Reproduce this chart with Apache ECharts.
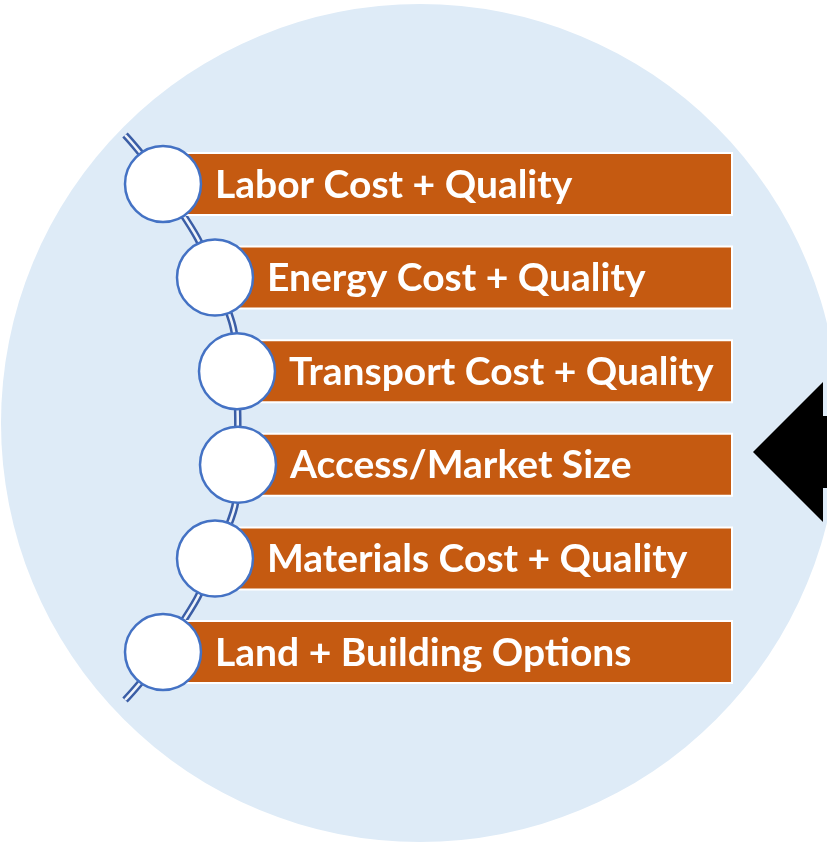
<!DOCTYPE html>
<html>
<head>
<meta charset="utf-8">
<script src="https://cdn.jsdelivr.net/npm/echarts@6/dist/echarts.min.js"></script>
<style>
  html, body { margin: 0; padding: 0; background: #fff; }
  #main { width: 827px; height: 843px; }
</style>
</head>
<body>
<div id="main"></div>
<script>
// steps of the list, top to bottom
var items = [
  'Labor Cost + Quality',
  'Energy Cost + Quality',
  'Transport Cost + Quality',
  'Access/Market Size',
  'Materials Cost + Quality',
  'Land + Building Options'
];
// horizontal position of each node on the curved chain
var nodeX = [163, 215, 237, 238, 215, 163];
// loose ends of the chain above and below the list
var chainTop = [125, 135];
var chainBottom = [125, 700];

var rowFirst = 184, rowStep = 93.6;
var barRight = 732, barHeight = 62;

var myChart = echarts.init(document.getElementById('main'));

var rows = items.map(function (name, i) {
  return [nodeX[i], rowFirst + i * rowStep, name];
});
var chain = [chainTop].concat(rows.map(function (r) { return [r[0], r[1]]; }), [chainBottom]);

var option = {
  animation: false,
  grid: { left: 0, right: 0, top: 0, bottom: 0 },
  xAxis: { type: 'value', min: 0, max: 827, show: false },
  yAxis: { type: 'value', min: 0, max: 843, inverse: true, show: false },
  series: [
    {
      // background disc
      type: 'custom',
      z: 1,
      data: [[420, 423, 419]],
      renderItem: function (params, api) {
        var c = api.coord([api.value(0), api.value(1)]);
        var r = api.size([api.value(2), 0])[0];
        return { type: 'circle', shape: { cx: c[0], cy: c[1], r: r }, style: { fill: '#DEEBF7' } };
      }
    },
    {
      // black arrow pointing at the list
      type: 'custom',
      z: 2,
      data: [[753, 452]],
      renderItem: function (params, api) {
        var tip = api.coord([api.value(0), api.value(1)]);
        var base = api.coord([823, 0])[0];
        var end = api.coord([900, 0])[0];
        var head = 70, shaft = 36;
        return {
          type: 'polygon',
          shape: { points: [
            tip, [base, tip[1] - head], [base, tip[1] - shaft], [end, tip[1] - shaft],
            [end, tip[1] + shaft], [base, tip[1] + shaft], [base, tip[1] + head]
          ] },
          style: { fill: '#000' }
        };
      }
    },
    {
      type: 'line',
      z: 3,
      data: chain,
      smooth: 0.5,
      symbol: 'none',
      silent: true,
      lineStyle: { color: '#3B5EA6', width: 7.5, cap: 'butt' }
    },
    {
      type: 'line',
      z: 4,
      data: chain,
      smooth: 0.5,
      symbol: 'none',
      silent: true,
      lineStyle: { color: '#EEF3FA', width: 2.5, cap: 'butt' }
    },
    {
      // orange bars with labels
      type: 'custom',
      z: 5,
      data: rows,
      renderItem: function (params, api) {
        var p = api.coord([api.value(0), api.value(1)]);
        var right = api.coord([barRight, api.value(1)])[0];
        var h = api.size([0, barHeight])[1];
        return {
          type: 'group',
          children: [
            {
              type: 'rect',
              shape: { x: p[0], y: p[1] - h / 2, width: right - p[0], height: h },
              style: { fill: '#C55A11', stroke: '#fff', lineWidth: 2 }
            },
            {
              type: 'text',
              style: {
                text: items[params.dataIndex],
                x: p[0] + 52,
                y: p[1] + 1,
                fill: '#fff',
                font: 'bold 39px Lato',
                textAlign: 'left',
                textVerticalAlign: 'middle'
              }
            }
          ]
        };
      }
    },
    {
      type: 'scatter',
      z: 6,
      data: rows.map(function (r) { return [r[0], r[1]]; }),
      symbol: 'circle',
      symbolSize: 76,
      itemStyle: { color: '#fff', borderColor: '#4472C4', borderWidth: 2.5, opacity: 1 }
    }
  ]
};
myChart.setOption(option);
</script>
</body>
</html>
